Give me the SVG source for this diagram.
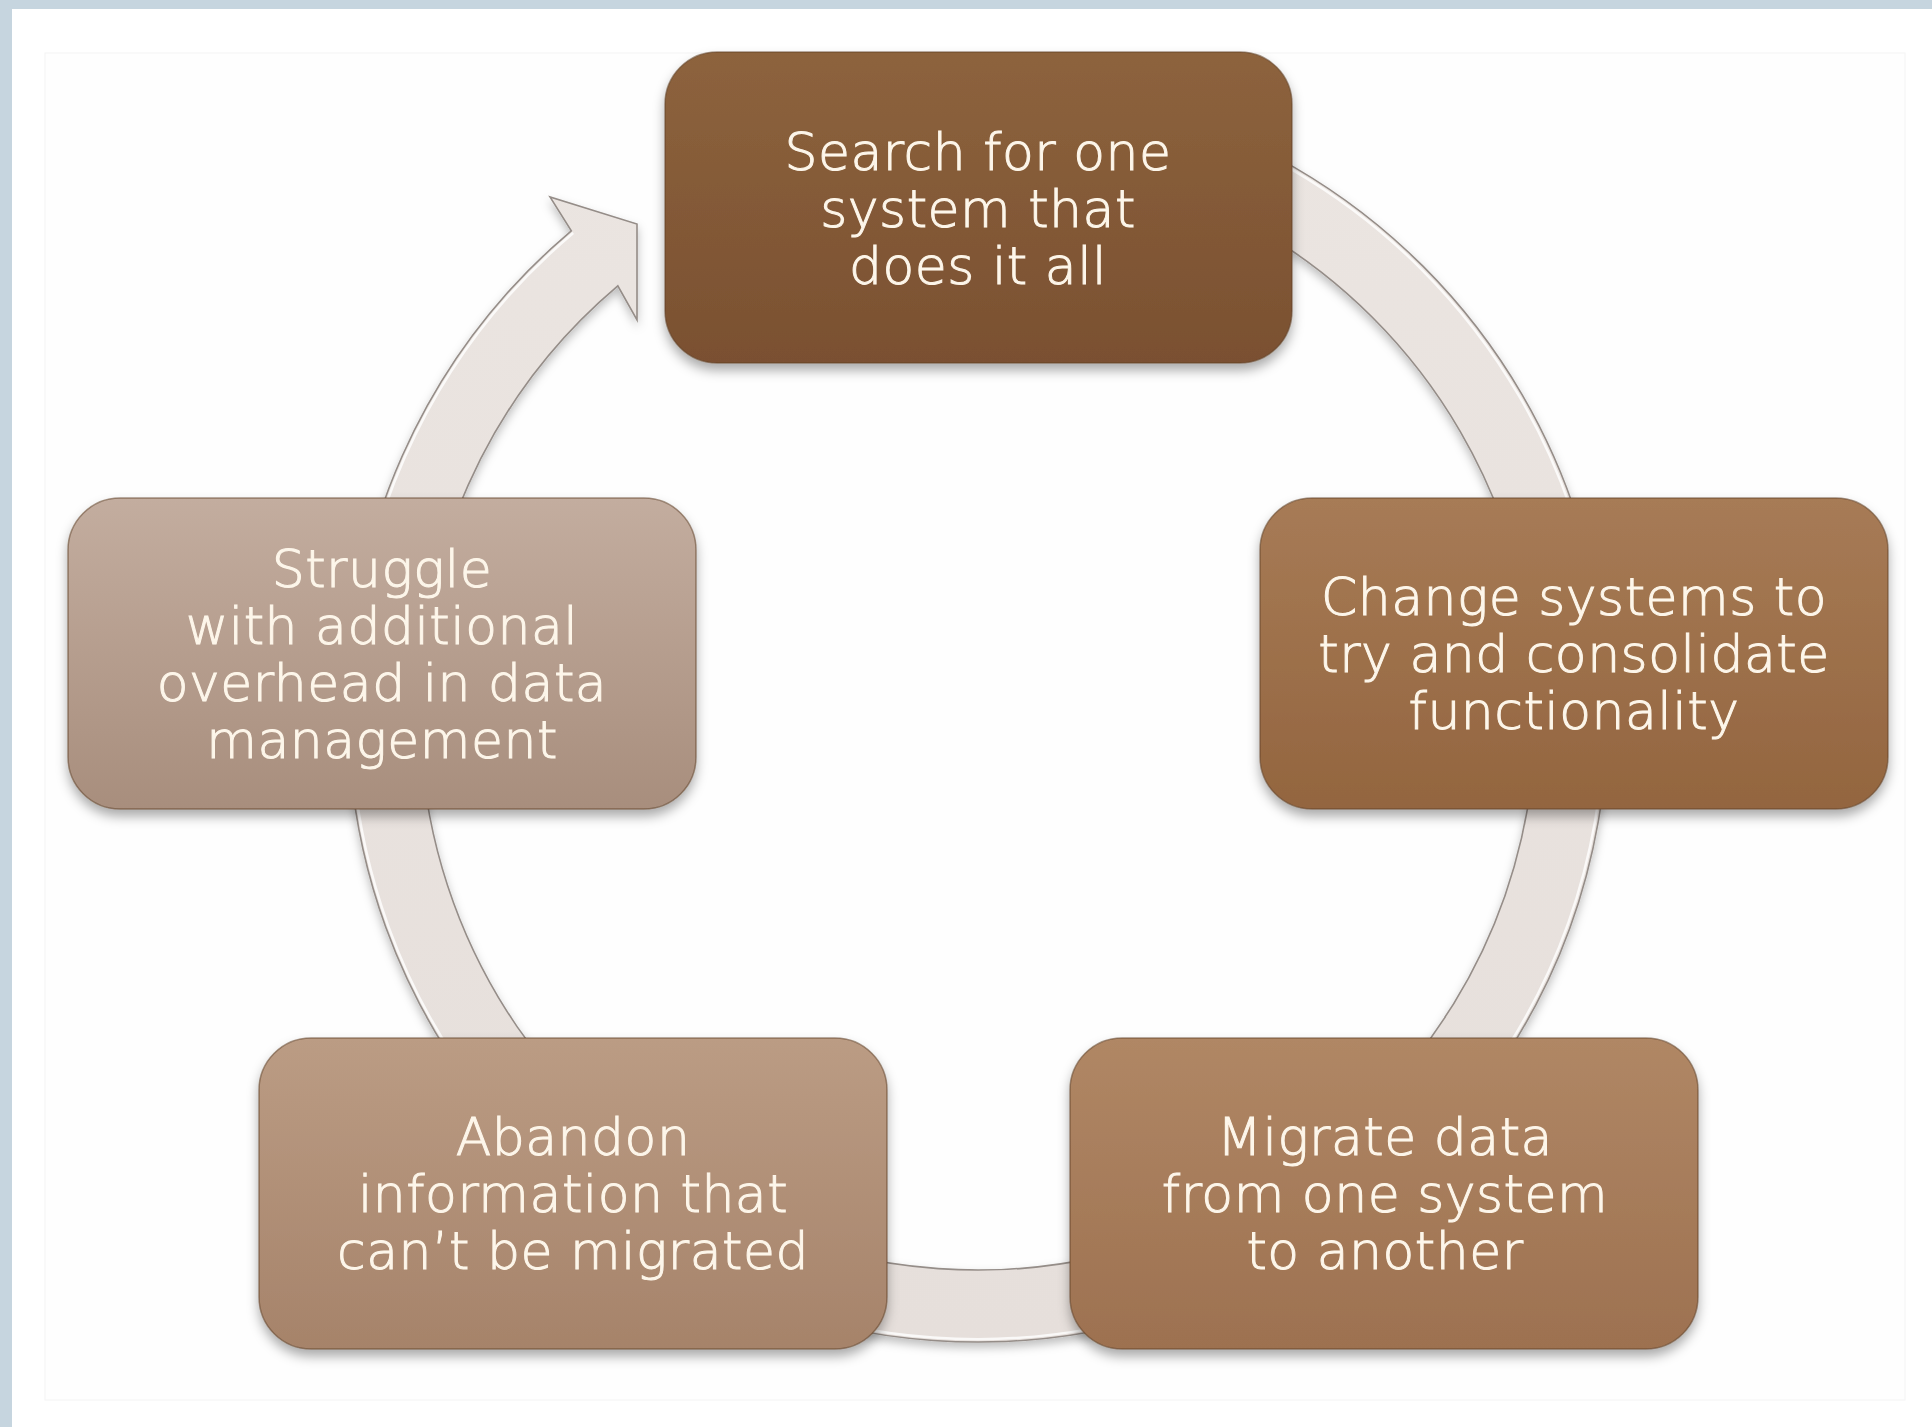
<svg xmlns="http://www.w3.org/2000/svg" width="1932" height="1427" viewBox="0 0 1932 1427">
<defs>
<style>
.lbl{font-family:"DejaVu Sans","Liberation Sans",sans-serif;font-weight:200;font-size:52px;letter-spacing:0.5px;fill:#fdf6ea;stroke:#fdf6ea;stroke-width:1;text-anchor:middle}
.box{stroke:#5e3f26;stroke-opacity:0.55;stroke-width:1.5}
.ring{fill:url(#gRing);stroke:#958d88;stroke-width:1.6}
.hl{fill:none;stroke:#ffffff;stroke-opacity:0.8;stroke-width:2.5}
</style>
<filter id="sh" x="-10%" y="-10%" width="120%" height="130%">
<feDropShadow dx="0" dy="7" stdDeviation="6" flood-color="#000" flood-opacity="0.33"/>
</filter>
<filter id="shR" x="-10%" y="-10%" width="120%" height="120%">
<feDropShadow dx="0" dy="5" stdDeviation="5" flood-color="#000" flood-opacity="0.25"/>
</filter>
<linearGradient id="gRing" x1="0" y1="0" x2="0" y2="1">
<stop offset="0" stop-color="#ebe5e1"/>
<stop offset="1" stop-color="#e6dfdb"/>
</linearGradient>
<linearGradient id="g1" x1="0" y1="0" x2="0" y2="1">
<stop offset="0" stop-color="#8d633d"/>
<stop offset="1" stop-color="#7a5031"/>
</linearGradient>
<linearGradient id="g2" x1="0" y1="0" x2="0" y2="1">
<stop offset="0" stop-color="#a77b56"/>
<stop offset="1" stop-color="#93653f"/>
</linearGradient>
<linearGradient id="g3" x1="0" y1="0" x2="0" y2="1">
<stop offset="0" stop-color="#b08765"/>
<stop offset="1" stop-color="#9d7150"/>
</linearGradient>
<linearGradient id="g4" x1="0" y1="0" x2="0" y2="1">
<stop offset="0" stop-color="#bb9c84"/>
<stop offset="1" stop-color="#a6836a"/>
</linearGradient>
<linearGradient id="g5" x1="0" y1="0" x2="0" y2="1">
<stop offset="0" stop-color="#c3ad9f"/>
<stop offset="1" stop-color="#a88e7d"/>
</linearGradient>
</defs>

<rect x="0" y="0" width="1932" height="1427" fill="#c6d5df"/>
<rect x="12" y="9" width="1920" height="1418" fill="#ffffff"/>
<rect x="45" y="53" width="1860" height="1347" fill="#fefefe" stroke="#f4f4f4" stroke-width="1"/>

<g id="connectors">
<path class="ring" filter="url(#shR)" d="M 868.6 91.6 A 630 630 0 1 1 571.3 230.8 L 550 197 L 637 224 L 637 320 L 617.8 285.8 A 558 558 0 1 0 881.1 162.5 Z"/>
<path class="hl" d="M 869.1 94.6 A 627 627 0 1 1 573.2 233"/>
</g>

<g id="node1">
<rect class="box" x="665" y="52" width="627" height="311" rx="52" fill="url(#g1)" filter="url(#sh)"/>
<text class="lbl"><tspan x="978" y="170">Search for one</tspan><tspan x="978" y="227">system that</tspan><tspan x="978" y="284">does it all</tspan></text>
</g>

<g id="node2">
<rect class="box" x="1260" y="498" width="628" height="311" rx="52" fill="url(#g2)" filter="url(#sh)"/>
<text class="lbl"><tspan x="1574" y="615">Change systems to</tspan><tspan x="1574" y="672">try and consolidate</tspan><tspan x="1574" y="729">functionality</tspan></text>
</g>

<g id="node3">
<rect class="box" x="1070" y="1038" width="628" height="311" rx="52" fill="url(#g3)" filter="url(#sh)"/>
<text class="lbl"><tspan x="1385" y="1155">Migrate data</tspan><tspan x="1385" y="1212">from one system</tspan><tspan x="1385" y="1269">to another</tspan></text>
</g>

<g id="node4">
<rect class="box" x="259" y="1038" width="628" height="311" rx="52" fill="url(#g4)" filter="url(#sh)"/>
<text class="lbl"><tspan x="573" y="1155">Abandon</tspan><tspan x="573" y="1212">information that</tspan><tspan x="573" y="1269">can’t be migrated</tspan></text>
</g>

<g id="node5">
<rect class="box" x="68" y="498" width="628" height="311" rx="52" fill="url(#g5)" filter="url(#sh)"/>
<text class="lbl"><tspan x="382" y="587">Struggle</tspan><tspan x="382" y="644">with additional</tspan><tspan x="382" y="701">overhead in data</tspan><tspan x="382" y="758">management</tspan></text>
</g>
</svg>
